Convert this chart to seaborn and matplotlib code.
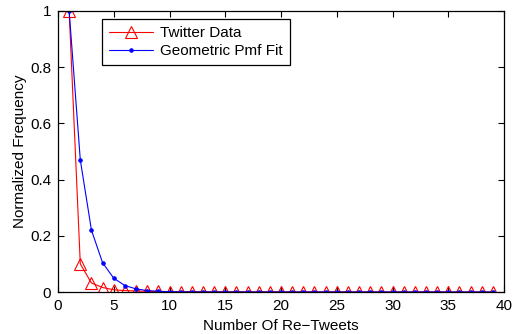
import matplotlib
matplotlib.use("Agg")
import matplotlib.pyplot as plt
import seaborn as sns
import pandas as pd
import numpy as np

sns.set_style("ticks")
plt.rcParams['font.family'] = ['Liberation Sans', 'DejaVu Sans']
plt.rcParams['text.color'] = 'black'
plt.rcParams['axes.labelcolor'] = 'black'
plt.rcParams['xtick.color'] = 'black'
plt.rcParams['ytick.color'] = 'black'

x_retweets = list(range(1, 40))
twitter_data = [1.0, 0.10, 0.032, 0.016, 0.008, 0.005, 0.0035, 0.0025, 0.002, 0.0016,
                0.0013, 0.0011, 0.001, 0.0009, 0.0008, 0.0007, 0.0006, 0.0006, 0.0005, 0.0005,
                0.0004, 0.0004, 0.0004, 0.0003, 0.0003, 0.0003, 0.0003, 0.0002, 0.0002, 0.0002,
                0.0002, 0.0002, 0.0002, 0.0001, 0.0001, 0.0001, 0.0001, 0.0001, 0.0001]
geometric_fit = [1.0, 0.47, 0.22, 0.104, 0.049, 0.023, 0.011, 0.0051, 0.0024, 0.0011,
                 0.0005, 0.00025, 0.00012, 0.00005, 0.00003, 0.00001, 0.0, 0.0, 0.0, 0.0,
                 0.0, 0.0, 0.0, 0.0, 0.0, 0.0, 0.0, 0.0, 0.0, 0.0,
                 0.0, 0.0, 0.0, 0.0, 0.0, 0.0, 0.0, 0.0, 0.0]

df_t = pd.DataFrame({"x": x_retweets, "y": twitter_data})
df_g = pd.DataFrame({"x": x_retweets, "y": geometric_fit})

fig = plt.figure(figsize=(5.14, 3.34), dpi=100)
ax = fig.add_axes([58/514, 1 - 292/334, (504-58)/514, (292-11)/334])

sns.lineplot(data=df_t, x="x", y="y", ax=ax, color="red", lw=0.8,
             marker="^", markersize=8.5, markerfacecolor="none", markeredgecolor="red",
             markeredgewidth=0.8, label="Twitter Data")
sns.lineplot(data=df_g, x="x", y="y", ax=ax, color="blue", lw=0.8,
             marker="o", markersize=2.5, markerfacecolor="blue", markeredgecolor="blue",
             label="Geometric Pmf Fit")

ax.set_xlim(0, 40)
ax.set_ylim(0, 1)
ax.set_xticks([0, 5, 10, 15, 20, 25, 30, 35, 40])
ax.set_yticks([0, 0.2, 0.4, 0.6, 0.8, 1])
ax.set_yticklabels(["0", "0.2", "0.4", "0.6", "0.8", "1"])
ax.tick_params(direction="in", top=True, right=True, labelsize=11, length=4, width=0.8, pad=5)
for s in ax.spines.values():
    s.set_visible(True)
    s.set_linewidth(0.9)
    s.set_color("black")
ax.set_xlabel("Number Of Re\u2212Tweets", fontsize=11, labelpad=4)
ax.set_ylabel("Normalized Frequency", fontsize=11, labelpad=2)

bb = (102 - 58) / (504 - 58)
leg = ax.legend(loc="upper left", bbox_to_anchor=(bb, 1 - (19 - 11) / 281),
                bbox_transform=ax.transAxes, borderaxespad=0, fontsize=11, frameon=True,
                fancybox=False, edgecolor="black", handlelength=2.9, handletextpad=0.45,
                borderpad=0.45, labelspacing=0.3)
leg.get_frame().set_linewidth(0.9)
leg.get_frame().set_alpha(1)

fig.savefig("out.png", dpi=100)
